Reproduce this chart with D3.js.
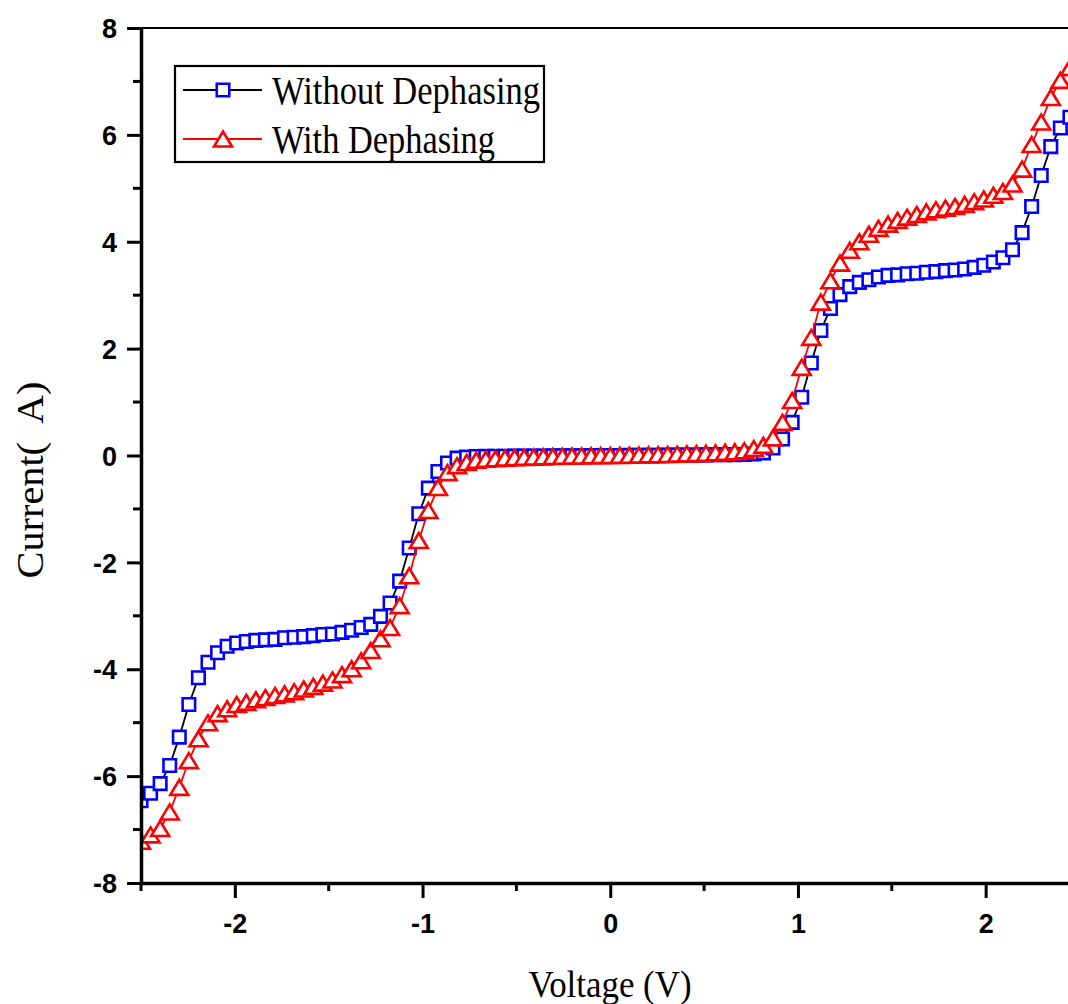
<!DOCTYPE html>
<html>
<head>
<meta charset="utf-8">
<script src="https://cdn.jsdelivr.net/npm/d3@7"></script>
<style>
  body { margin: 0; background: #fff; }
</style>
</head>
<body>
<div id="chart"></div>
<script>
// Bias voltage sweep (V)
var voltage = [-2.500,-2.449,-2.398,-2.347,-2.296,-2.245,-2.194,-2.143,-2.092,-2.041,
  -1.990,-1.939,-1.888,-1.837,-1.786,-1.735,-1.684,-1.633,-1.582,-1.531,
  -1.480,-1.429,-1.378,-1.327,-1.276,-1.224,-1.173,-1.122,-1.071,-1.020,
  -0.969,-0.918,-0.867,-0.816,-0.765,-0.714,-0.663,-0.612,-0.561,-0.510,
  -0.459,-0.408,-0.357,-0.306,-0.255,-0.204,-0.153,-0.102,-0.051,0,
  0.051,0.102,0.153,0.204,0.255,0.306,0.357,0.408,0.459,0.510,
  0.561,0.612,0.663,0.714,0.765,0.816,0.867,0.918,0.969,1.020,
  1.071,1.122,1.173,1.224,1.276,1.327,1.378,1.429,1.480,1.531,
  1.582,1.633,1.684,1.735,1.786,1.837,1.888,1.939,1.990,2.041,
  2.092,2.143,2.194,2.245,2.296,2.347,2.398,2.449,2.500];

// Current without dephasing
var withoutDephasing = [-6.46,-6.32,-6.14,-5.80,-5.27,-4.66,-4.16,-3.87,-3.69,-3.57,
  -3.51,-3.48,-3.46,-3.45,-3.44,-3.41,-3.40,-3.39,-3.37,-3.35,
  -3.34,-3.31,-3.27,-3.22,-3.16,-3.01,-2.76,-2.35,-1.73,-1.09,
  -0.61,-0.30,-0.14,-0.05,-0.03,-0.02,-0.017,-0.015,-0.013,-0.011,
  -0.010,-0.009,-0.008,-0.007,-0.006,-0.005,-0.004,-0.002,-0.001,0,
  0.001,0.002,0.004,0.005,0.006,0.007,0.008,0.009,0.010,0.011,
  0.013,0.015,0.017,0.02,0.03,0.05,0.14,0.31,0.62,1.09,
  1.73,2.34,2.75,3.01,3.16,3.24,3.29,3.34,3.37,3.38,
  3.40,3.41,3.43,3.44,3.46,3.47,3.49,3.52,3.56,3.62,
  3.70,3.85,4.17,4.66,5.24,5.78,6.13,6.33,6.46];

// Current with dephasing
var withDephasing = [-7.22,-7.10,-6.98,-6.67,-6.21,-5.71,-5.30,-5.00,-4.83,-4.74,
  -4.66,-4.62,-4.57,-4.53,-4.49,-4.46,-4.42,-4.37,-4.32,-4.26,
  -4.20,-4.10,-3.99,-3.84,-3.65,-3.43,-3.22,-2.81,-2.25,-1.59,
  -1.03,-0.60,-0.32,-0.19,-0.13,-0.09,-0.07,-0.06,-0.05,-0.04,
  -0.035,-0.03,-0.025,-0.02,-0.015,-0.012,-0.008,-0.005,-0.002,0,
  0.002,0.005,0.008,0.012,0.015,0.02,0.025,0.03,0.035,0.04,
  0.05,0.06,0.07,0.09,0.13,0.19,0.33,0.62,1.03,1.65,
  2.21,2.87,3.27,3.60,3.84,4.00,4.14,4.25,4.33,4.40,
  4.46,4.51,4.56,4.60,4.63,4.66,4.70,4.75,4.80,4.87,
  4.94,5.08,5.36,5.82,6.24,6.70,7.02,7.26,7.40];

// Tick values
var xMajorTicks = [-2, -1, 0, 1, 2];
var xMinorTicks = [-2.5, -1.5, -0.5, 0.5, 1.5, 2.5];
var yMajorTicks = [-8, -6, -4, -2, 0, 2, 4, 6, 8];
var yMinorTicks = [-7, -5, -3, -1, 1, 3, 5, 7];

var seriesNames = ["Without Dephasing", "With Dephasing"];

// Canvas size
var outer_width = 1068;
var outer_height = 1004;

// Plot area (right edge runs past the picture)
var plot = {left: 141, top: 28, bottom: 883, right: 1079.5};

var xScale = d3.scaleLinear()
    .domain([-2.5, 2.5])
    .range([plot.left, plot.right]);

var yScale = d3.scaleLinear()
    .domain([-8, 8])
    .range([plot.bottom, plot.top]);

var svg = d3.select("#chart")
    .append("svg")
    .attr("width", outer_width)
    .attr("height", outer_height);

// Clip for the data marks
svg.append("clipPath")
    .attr("id", "plot-clip")
    .append("rect")
    .attr("x", plot.left)
    .attr("y", plot.top)
    .attr("width", plot.right - plot.left)
    .attr("height", plot.bottom - plot.top);

// Marker shapes
function squarePath(s) {
    return "M" + (-s / 2) + "," + (-s / 2) + "h" + s + "v" + s + "h" + (-s) + "Z";
}
function trianglePath(w, h) {
    return "M0," + (-h / 2) + "L" + (w / 2) + "," + (h / 2) + "L" + (-w / 2) + "," + (h / 2) + "Z";
}

var series = [
    {name: seriesNames[0], values: withoutDephasing, line: "#000", marker: "#0000ff", shape: squarePath(12.5)},
    {name: seriesNames[1], values: withDephasing, line: "#ff0000", marker: "#ff0000", shape: trianglePath(18, 15)}
];

var lineGen = d3.line()
    .x(function(d) { return xScale(d[0]); })
    .y(function(d) { return yScale(d[1]); });

var dataLayer = svg.append("g").attr("clip-path", "url(#plot-clip)");

series.forEach(function(s) {
    var pts = voltage.map(function(v, i) { return [v, s.values[i]]; });

    dataLayer.append("path")
        .datum(pts)
        .attr("d", lineGen)
        .attr("fill", "none")
        .attr("stroke", s.line)
        .attr("stroke-width", 1.8);

    dataLayer.append("g")
        .selectAll("path")
        .data(pts)
        .enter()
        .append("path")
        .attr("d", s.shape)
        .attr("transform", function(d) {
            return "translate(" + xScale(d[0]) + "," + yScale(d[1]) + ")";
        })
        .attr("fill", "#fff")
        .attr("stroke", s.marker)
        .attr("stroke-width", 2.6);
});

// Top frame line
svg.append("line")
    .attr("x1", plot.left).attr("x2", outer_width)
    .attr("y1", plot.top).attr("y2", plot.top)
    .attr("stroke", "#000")
    .attr("stroke-width", 2);

// Plain hyphen for negatives, like the original
var tickFmt = function(d) { return String(d); };

// X axis
var xAxis = d3.axisBottom(xScale)
    .tickValues(xMajorTicks)
    .tickSize(15)
    .tickSizeOuter(0)
    .tickPadding(16)
    .tickFormat(tickFmt);

var gx = svg.append("g")
    .attr("transform", "translate(0," + plot.bottom + ")")
    .call(xAxis);

gx.selectAll(".tick.minor")
    .data(xMinorTicks)
    .enter()
    .append("line")
    .attr("x1", function(d) { return xScale(d); })
    .attr("x2", function(d) { return xScale(d); })
    .attr("y1", 0)
    .attr("y2", 8)
    .attr("stroke", "#000")
    .attr("stroke-width", 3);

// Y axis
var yAxis = d3.axisLeft(yScale)
    .tickValues(yMajorTicks)
    .tickSize(14)
    .tickSizeOuter(0)
    .tickPadding(10)
    .tickFormat(tickFmt);

var gy = svg.append("g")
    .attr("transform", "translate(" + plot.left + ",0)")
    .call(yAxis);

gy.selectAll(".tick.minor")
    .data(yMinorTicks)
    .enter()
    .append("line")
    .attr("x1", -8)
    .attr("x2", 0)
    .attr("y1", function(d) { return yScale(d); })
    .attr("y2", function(d) { return yScale(d); })
    .attr("stroke", "#000")
    .attr("stroke-width", 3);

[gx, gy].forEach(function(g) {
    g.select(".domain")
        .attr("stroke-width", 3.5);
    g.selectAll(".tick line")
        .attr("stroke-width", 3);
    g.selectAll(".tick text")
        .attr("font-family", "'Liberation Sans', Arial, sans-serif")
        .attr("font-size", "27px")
        .attr("font-weight", "bold")
        .attr("fill", "#000");
});
gy.selectAll(".tick text").attr("dy", "0.36em");

// Axis titles
svg.append("text")
    .attr("x", 610)
    .attr("y", 997)
    .attr("text-anchor", "middle")
    .attr("font-family", "'Liberation Serif', 'Times New Roman', serif")
    .attr("font-size", "38px")
    .attr("textLength", 163)
    .attr("lengthAdjust", "spacingAndGlyphs")
    .text("Voltage (V)");

svg.append("text")
    .attr("transform", "translate(43,480) rotate(-90)")
    .attr("text-anchor", "middle")
    .attr("font-family", "'Liberation Serif', 'Times New Roman', serif")
    .attr("font-size", "38px")
    .attr("textLength", 197)
    .attr("lengthAdjust", "spacingAndGlyphs")
    .style("white-space", "pre")
    .text("Current(  A)");

// Legend
var legend = svg.append("g");

legend.append("rect")
    .attr("x", 175)
    .attr("y", 66)
    .attr("width", 369)
    .attr("height", 96)
    .attr("fill", "#fff")
    .attr("stroke", "#000")
    .attr("stroke-width", 2.2);

var legendRows = [90, 139];
var legendWidths = [268, 223];

series.forEach(function(s, i) {
    var row = legend.append("g").attr("transform", "translate(0," + legendRows[i] + ")");
    row.append("line")
        .attr("x1", 183).attr("x2", 262)
        .attr("y1", 0).attr("y2", 0)
        .attr("stroke", s.line)
        .attr("stroke-width", 2);
    row.append("path")
        .attr("d", s.shape)
        .attr("transform", "translate(223,0)")
        .attr("fill", "#fff")
        .attr("stroke", s.marker)
        .attr("stroke-width", 2.6);
    row.append("text")
        .attr("x", 272)
        .attr("y", 14)
        .attr("font-family", "'Liberation Serif', 'Times New Roman', serif")
        .attr("font-size", "39px")
        .attr("textLength", legendWidths[i])
        .attr("lengthAdjust", "spacingAndGlyphs")
        .text(s.name);
});
</script>
</body>
</html>
